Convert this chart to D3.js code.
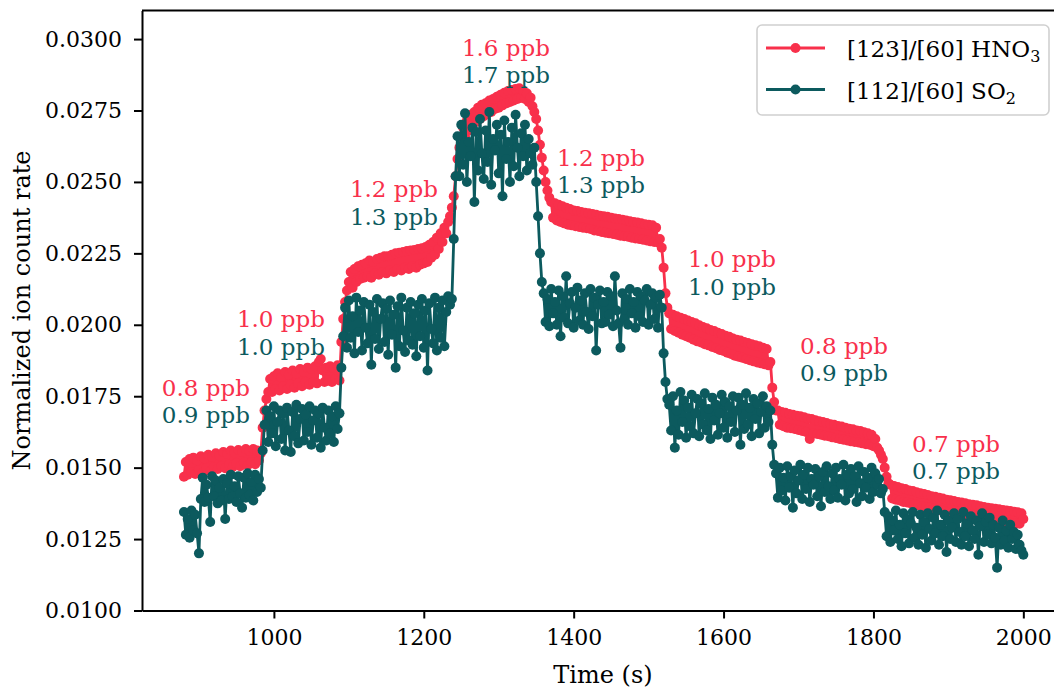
<!DOCTYPE html>
<html><head><meta charset="utf-8">
<script src="https://cdn.jsdelivr.net/npm/d3@7"></script>
<style>
body{margin:0;background:#fff}
svg{display:block}
text{font-family:"DejaVu Serif",serif}
</style>
</head><body>
<svg id="chart" width="1054" height="690"></svg>
<script>
// ---- data (sampled every 2.5 s) ----
const time = d3.range(880, 2001, 2.5);
const hno3 = [
 0.01468,0.01520,0.01475,0.01530,0.01485,0.01535,0.01478,0.01525,0.01492,0.01540,0.01482,0.01532,0.01498,0.01545,0.01488,0.01538,0.01502,0.01550,0.01495,0.01542,
 0.01505,0.01555,0.01498,0.01548,0.01510,0.01560,0.01502,0.01552,0.01515,0.01562,0.01505,0.01555,0.01518,0.01565,0.01508,0.01558,0.01520,0.01565,0.01512,0.01560,0.01525,0.01550,
 0.01640,0.01700,0.01740,0.01765,
 0.01810,0.01765,0.01820,0.01775,0.01830,0.01770,0.01815,0.01785,0.01835,0.01775,0.01825,0.01790,0.01840,0.01780,0.01830,0.01795,0.01845,0.01785,0.01835,0.01800,
 0.01850,0.01790,0.01845,0.01800,0.01855,0.01795,0.01870,0.01880,0.01840,0.01800,0.01850,0.01805,0.01855,0.01800,0.01848,0.01810,0.01858,0.01805,
 0.01940,0.02020,0.02080,0.02120,
 0.02150,0.02185,0.02130,0.02195,0.02150,0.02205,0.02160,0.02210,0.02165,0.02215,0.02170,0.02225,0.02165,0.02220,0.02180,0.02230,0.02175,0.02235,0.02185,0.02240,
 0.02180,0.02240,0.02190,0.02245,0.02185,0.02250,0.02195,0.02252,0.02190,0.02255,0.02200,0.02258,0.02195,0.02260,0.02205,0.02262,0.02200,0.02265,0.02210,0.02268,
 0.02215,0.02272,0.02220,0.02280,0.02235,0.02290,0.02245,0.02305,0.02265,0.02320,0.02290,0.02340,0.02320,0.02360,0.02380,0.02410,
 0.02450,0.02520,0.02580,0.02620,0.02650,0.02690,0.02660,0.02715,0.02680,0.02735,0.02700,0.02745,0.02710,0.02760,0.02720,0.02770,0.02730,0.02775,0.02740,0.02785,
 0.02745,0.02790,0.02755,0.02798,0.02760,0.02805,0.02768,0.02812,0.02775,0.02818,0.02780,0.02822,0.02785,0.02825,0.02790,0.02828,0.02795,0.02820,0.02790,0.02810,
 0.02780,0.02795,0.02765,0.02745,
 0.02720,0.02680,0.02630,0.02585,0.02540,0.02500,0.02470,0.02445,
 0.02430,0.02375,0.02425,0.02365,0.02420,0.02360,0.02415,0.02355,0.02410,0.02350,0.02405,0.02348,0.02400,0.02345,0.02398,0.02342,0.02395,0.02340,0.02392,0.02338,
 0.02390,0.02335,0.02388,0.02330,0.02385,0.02328,0.02382,0.02325,0.02380,0.02322,0.02378,0.02320,0.02375,0.02318,0.02372,0.02315,0.02370,0.02312,0.02368,0.02310,
 0.02365,0.02308,0.02362,0.02305,0.02360,0.02302,0.02358,0.02300,0.02355,0.02298,0.02352,0.02295,0.02350,0.02292,0.02348,0.02290,0.02340,0.02288,0.02300,0.02270,
 0.02200,0.02110,0.02060,
 0.02040,0.01985,0.02035,0.01978,0.02030,0.01972,0.02025,0.01965,0.02020,0.01960,0.02015,0.01955,0.02010,0.01948,0.02005,0.01942,0.01998,0.01938,0.01992,0.01932,
 0.01988,0.01928,0.01982,0.01922,0.01978,0.01918,0.01972,0.01912,0.01968,0.01908,0.01962,0.01902,0.01958,0.01898,0.01952,0.01892,0.01948,0.01888,0.01945,0.01885,
 0.01940,0.01880,0.01936,0.01876,0.01932,0.01872,0.01928,0.01868,0.01925,0.01865,0.01920,0.01862,0.01915,0.01858,0.01870,
 0.01780,0.01730,0.01700,
 0.01700,0.01650,0.01695,0.01645,0.01692,0.01640,0.01688,0.01638,0.01685,0.01635,0.01682,0.01632,0.01680,0.01628,0.01676,0.01625,0.01672,0.01600,0.01670,0.01620,
 0.01666,0.01618,0.01662,0.01615,0.01660,0.01612,0.01656,0.01610,0.01652,0.01606,0.01650,0.01604,0.01646,0.01600,0.01644,0.01598,0.01640,0.01595,0.01636,0.01592,
 0.01634,0.01590,0.01630,0.01588,0.01628,0.01585,0.01624,0.01582,0.01620,0.01580,0.01615,0.01575,0.01600,0.01570,0.01560,0.01545,0.01530,
 0.01500,0.01468,0.01445,
 0.01440,0.01392,0.01436,0.01388,0.01432,0.01385,0.01428,0.01380,0.01425,0.01378,0.01420,0.01375,0.01418,0.01372,0.01414,0.01368,0.01410,0.01365,0.01408,0.01362,
 0.01404,0.01360,0.01400,0.01356,0.01398,0.01354,0.01395,0.01350,0.01392,0.01348,0.01388,0.01345,0.01386,0.01342,0.01383,0.01340,0.01380,0.01338,0.01378,0.01335,
 0.01375,0.01332,0.01372,0.01330,0.01370,0.01328,0.01368,0.01325,0.01365,0.01322,0.01362,0.01320,0.01360,0.01318,0.01358,0.01316,0.01356,0.01314,0.01354,0.01312,
 0.01352,0.01310,0.01350,0.01308,0.01348,0.01306,0.01346,0.01305,0.01344,0.01304,0.01340,0.01320
];
const so2 = [
 0.01345,0.01265,0.01320,0.01255,0.01350,0.01280,0.01335,0.01270,0.01200,
 0.01390,0.01465,0.01380,0.01440,0.01395,0.01310,0.01470,0.01400,0.01455,0.01375,0.01430,0.01385,0.01460,0.01320,0.01445,0.01390,0.01475,0.01400,0.01435,0.01380,
 0.01470,0.01410,0.01360,0.01465,0.01395,0.01480,0.01405,0.01450,0.01385,0.01475,0.01415,0.01460,0.01430,
 0.01560,0.01650,
 0.01700,0.01590,0.01680,0.01620,0.01715,0.01575,0.01660,0.01700,0.01600,0.01690,0.01560,0.01710,0.01630,0.01555,0.01695,0.01610,0.01720,0.01585,0.01670,0.01705,
 0.01595,0.01685,0.01625,0.01715,0.01580,0.01665,0.01700,0.01605,0.01690,0.01570,0.01710,0.01640,0.01595,0.01700,0.01620,0.01680,0.01590,0.01715,0.01635,0.01690,
 0.01850,0.01960,
 0.02060,0.01920,0.02085,0.01955,0.02030,0.01900,0.02095,0.01975,0.02050,0.01910,0.02080,0.01990,0.01935,0.02070,0.01860,0.02045,0.01950,0.02090,0.01915,0.02020,
 0.02075,0.01940,0.02055,0.01895,0.02085,0.01965,0.02035,0.01850,0.02065,0.01925,0.02095,0.01980,0.01905,0.02060,0.01945,0.02080,0.01930,0.02040,0.01890,0.02070,
 0.01960,0.02090,0.01920,0.02050,0.01840,0.02075,0.01985,0.01935,0.02095,0.01910,0.02060,0.01955,0.02085,0.01925,0.02045,0.02100,0.02070,0.02090,
 0.02300,0.02520,
 0.02660,0.02520,0.02700,0.02560,0.02740,0.02500,0.02640,0.02590,0.02690,0.02430,0.02675,0.02540,0.02720,0.02600,0.02510,0.02680,0.02570,0.02745,0.02490,0.02650,
 0.02610,0.02700,0.02530,0.02665,0.02450,0.02715,0.02580,0.02640,0.02500,0.02690,0.02555,0.02735,0.02620,0.02520,0.02670,0.02590,0.02700,0.02540,0.02650,0.02600,
 0.02560,0.02620,
 0.02500,0.02380,0.02250,0.02150,
 0.02110,0.02010,0.02090,0.01995,0.02125,0.02040,0.02080,0.02000,0.02120,0.01960,0.02100,0.02025,0.02170,0.02005,0.02075,0.02115,0.01990,0.02060,0.02130,0.02015,
 0.02085,0.02000,0.02110,0.02045,0.01985,0.02125,0.02030,0.02095,0.01910,0.02070,0.02120,0.02005,0.02080,0.02010,0.02115,0.02035,0.02100,0.01995,0.02170,0.02050,
 0.02005,0.01920,0.02110,0.02020,0.02090,0.02000,0.02125,0.02040,0.02080,0.01990,0.02115,0.02030,0.02100,0.02010,0.02085,0.02125,0.02000,0.02070,0.02110,0.02020,
 0.02095,0.01990,0.02105,0.02060,
 0.01900,0.01800,0.01740,
 0.01720,0.01630,0.01750,0.01570,0.01700,0.01615,0.01765,0.01660,0.01735,0.01605,0.01710,0.01645,0.01755,0.01620,0.01690,0.01740,0.01610,0.01725,0.01650,0.01760,
 0.01630,0.01705,0.01600,0.01745,0.01665,0.01720,0.01615,0.01690,0.01755,0.01640,0.01730,0.01605,0.01715,0.01660,0.01750,0.01625,0.01700,0.01745,0.01580,0.01720,
 0.01635,0.01760,0.01650,0.01710,0.01610,0.01740,0.01670,0.01725,0.01620,0.01695,0.01750,0.01640,0.01715,0.01660,0.01700,
 0.01580,0.01510,
 0.01480,0.01395,0.01500,0.01420,0.01465,0.01385,0.01505,0.01430,0.01470,0.01360,0.01490,0.01410,0.01455,0.01510,0.01390,0.01475,0.01425,0.01500,0.01380,0.01460,
 0.01440,0.01495,0.01400,0.01470,0.01365,0.01485,0.01415,0.01505,0.01435,0.01390,0.01480,0.01420,0.01500,0.01395,0.01460,0.01440,0.01510,0.01385,0.01475,0.01410,
 0.01495,0.01425,0.01470,0.01380,0.01505,0.01445,0.01400,0.01485,0.01430,0.01465,0.01390,0.01500,0.01415,0.01480,0.01440,0.01460,0.01410,0.01425,
 0.01345,0.01260,0.01330,0.01240,0.01315,0.01280,0.01350,0.01250,0.01300,0.01225,0.01340,0.01270,0.01320,0.01235,0.01305,0.01345,0.01255,0.01290,0.01230,0.01335,
 0.01265,0.01310,0.01220,0.01340,0.01285,0.01245,0.01325,0.01270,0.01350,0.01230,0.01300,0.01260,0.01335,0.01205,0.01315,0.01250,0.01290,0.01340,0.01240,0.01320,
 0.01275,0.01230,0.01345,0.01260,0.01305,0.01225,0.01330,0.01280,0.01250,0.01315,0.01195,0.01295,0.01340,0.01240,0.01310,0.01265,0.01325,0.01235,0.01300,0.01255,
 0.01150,0.01290,0.01230,0.01315,0.01245,0.01280,0.01220,0.01300,0.01250,0.01275,0.01215,0.01265,0.01230,0.01210,0.01195
];
const xTicks = [1000, 1200, 1400, 1600, 1800, 2000];
const yTicks = [0.0100, 0.0125, 0.0150, 0.0175, 0.0200, 0.0225, 0.0250, 0.0275, 0.0300];
const xDomain = [824, 2056];
const yDomain = [0.0100, 0.0310];
// annotation anchors (time, value of the HNO3 label baseline)
const labelTime  = [850.5, 950.6, 1101.4, 1250.9, 1377.7, 1552.5, 1702.0, 1851.5];
const labelValue = [0.01751, 0.01992, 0.02447, 0.02941, 0.02556, 0.02202, 0.01898, 0.01555];
const hno3Labels = ["0.8 ppb","1.0 ppb","1.2 ppb","1.6 ppb","1.2 ppb","1.0 ppb","0.8 ppb","0.7 ppb"];
const so2Labels  = ["0.9 ppb","1.0 ppb","1.3 ppb","1.7 ppb","1.3 ppb","1.0 ppb","0.9 ppb","0.7 ppb"];
const seriesNames = ["[123]/[60] HNO", "[112]/[60] SO"];
const seriesSubs = ["3", "2"];
const colors = ["#f8304b", "#0c5a5e"];

// ---- drawing ----
const FONT = "DejaVu Serif";
const svg = d3.select("#chart");
const L = 142, T = 10.5, R = 1065.3, B = 610.5;
const x = d3.scaleLinear().domain(xDomain).range([L, R]);
const y = d3.scaleLinear().domain(yDomain).range([B, T]);

const series = [hno3, so2];
const n = Math.min(time.length, hno3.length, so2.length);
const line = d3.line().x((d, i) => x(time[i])).y(d => y(d));
series.forEach((vals, k) => {
  const v = vals.slice(0, n);
  const g = svg.append("g");
  g.append("path").datum(v).attr("d", line)
    .attr("fill", "none").attr("stroke", colors[k]).attr("stroke-width", 2.8)
    .attr("stroke-linejoin", "round");
  g.selectAll("circle").data(v).join("circle")
    .attr("cx", (d, i) => x(time[i])).attr("cy", d => y(d)).attr("r", 5)
    .attr("fill", colors[k]);
});

// annotations
labelTime.forEach((t, i) => {
  svg.append("text").attr("x", x(t)).attr("y", y(labelValue[i]))
    .attr("fill", colors[0]).attr("font-size", 23).text(hno3Labels[i]);
  svg.append("text").attr("x", x(t)).attr("y", y(labelValue[i]) + 27.5)
    .attr("fill", colors[1]).attr("font-size", 23).text(so2Labels[i]);
});

// axes
const xAxis = svg.append("g").attr("transform", `translate(0,${B})`)
  .call(d3.axisBottom(x).tickValues(xTicks).tickFormat(d3.format("d"))
    .tickSize(8).tickSizeOuter(0).tickPadding(11));
const yAxis = svg.append("g").attr("transform", `translate(${L},0)`)
  .call(d3.axisLeft(y).tickValues(yTicks).tickFormat(d3.format(".4f"))
    .tickSize(8).tickSizeOuter(0).tickPadding(12));
[xAxis, yAxis].forEach(a => {
  a.attr("font-family", FONT);
  a.select(".domain").attr("stroke", "#000").attr("stroke-width", 2);
  a.selectAll(".tick line").attr("stroke", "#000").attr("stroke-width", 2);
  a.selectAll(".tick text").attr("fill", "#000").attr("font-size", 22);
});
svg.append("line").attr("x1", L).attr("x2", R).attr("y1", T).attr("y2", T)
  .attr("stroke", "#000").attr("stroke-width", 2);

// axis titles
svg.append("text").attr("x", 603).attr("y", 683)
  .attr("text-anchor", "middle").attr("font-size", 24).text("Time (s)");
svg.append("text").attr("transform", `translate(30,${(T + B) / 2}) rotate(-90)`)
  .attr("text-anchor", "middle").attr("font-size", 24).text("Normalized ion count rate");

// legend
const lg = svg.append("g");
lg.append("rect").attr("x", 757).attr("y", 25).attr("width", 292).attr("height", 90)
  .attr("rx", 5).attr("fill", "#fff").attr("fill-opacity", 0.8)
  .attr("stroke", "#d0d0d0").attr("stroke-width", 1.6);
seriesNames.forEach((name, k) => {
  const ry = 48 + k * 41.5;
  lg.append("line").attr("x1", 766).attr("x2", 825).attr("y1", ry).attr("y2", ry)
    .attr("stroke", colors[k]).attr("stroke-width", 2.8);
  lg.append("circle").attr("cx", 795.5).attr("cy", ry).attr("r", 5).attr("fill", colors[k]);
  const t = lg.append("text").attr("x", 847).attr("y", ry + 9).attr("font-size", 23).attr("fill", "#000");
  t.append("tspan").text(name);
  t.append("tspan").attr("font-size", 16).attr("dy", 5).text(seriesSubs[k]);
});
</script>
</body></html>
